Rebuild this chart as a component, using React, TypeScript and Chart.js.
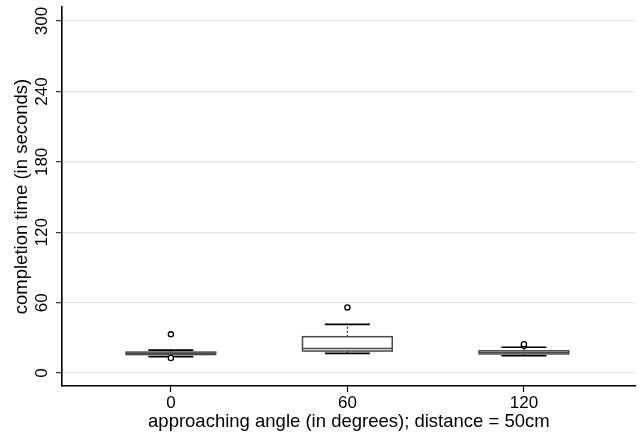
import React, { useEffect, useRef } from 'react';
import { Chart, registerables } from 'chart.js';
Chart.register(...registerables);

// ---- data ----
const categories = [0, 60, 120];
const whiskerLow = [14, 16.8, 14.8];
const q1 = [15.8, 18.8, 16.3];
const median = [16.8, 21, 17.5];
const q3 = [17.9, 31, 19];
const whiskerHigh = [19.6, 41.5, 22];
const outlierX = [0, 0, 60, 120, 120];
const outlierY = [33, 12.8, 56, 23.4, 24.6];
const yTicks = [0, 60, 120, 180, 240, 300];
const xTicks = [0, 60, 120];

const X_TITLE = 'approaching angle (in degrees); distance = 50cm';
const Y_TITLE = 'completion time (in seconds)';

// ---- styles ----
const FONT = "'Liberation Sans', Arial, sans-serif";
const BOX_W = 30.5; // in x units
const CAP_W = 15.3;

const boxPlugin = {
  id: 'boxPlugin',
  beforeDatasetsDraw(chart: any) {
    const ctx = chart.ctx;
    const xs = chart.scales.x;
    const ys = chart.scales.y;
    ctx.save();
    categories.forEach((c, i) => {
      const cx = xs.getPixelForValue(c);
      const bl = xs.getPixelForValue(c - BOX_W / 2);
      const br = xs.getPixelForValue(c + BOX_W / 2);
      const cl = xs.getPixelForValue(c - CAP_W / 2);
      const cr = xs.getPixelForValue(c + CAP_W / 2);
      const yq1 = ys.getPixelForValue(q1[i]);
      const yq3 = ys.getPixelForValue(q3[i]);
      const ymed = ys.getPixelForValue(median[i]);
      const ylo = ys.getPixelForValue(whiskerLow[i]);
      const yhi = ys.getPixelForValue(whiskerHigh[i]);
      // whiskers
      ctx.strokeStyle = '#333';
      ctx.lineWidth = 1.2;
      ctx.setLineDash([2, 2]);
      ctx.beginPath();
      ctx.moveTo(cx, yq3);
      ctx.lineTo(cx, yhi);
      ctx.moveTo(cx, yq1);
      ctx.lineTo(cx, ylo);
      ctx.stroke();
      ctx.setLineDash([]);
      // caps
      ctx.strokeStyle = '#000';
      ctx.lineWidth = 1.6;
      ctx.beginPath();
      ctx.moveTo(cl, yhi);
      ctx.lineTo(cr, yhi);
      ctx.moveTo(cl, ylo);
      ctx.lineTo(cr, ylo);
      ctx.stroke();
      // box
      ctx.fillStyle = '#ffffff';
      ctx.fillRect(bl, yq3, br - bl, yq1 - yq3);
      ctx.strokeStyle = '#4a4a4a';
      ctx.lineWidth = 1.5;
      ctx.strokeRect(bl, yq3, br - bl, yq1 - yq3);
      // median
      ctx.beginPath();
      ctx.moveTo(bl, ymed);
      ctx.lineTo(br, ymed);
      ctx.stroke();
    });
    ctx.restore();
  },
  afterDraw(chart: any) {
    const ctx = chart.ctx;
    const ys = chart.scales.y;
    ctx.save();
    ctx.fillStyle = '#000';
    ctx.font = `17px ${FONT}`;
    ctx.textAlign = 'center';
    ctx.textBaseline = 'middle';
    yTicks.forEach((v) => {
      const py = ys.getPixelForValue(v);
      ctx.save();
      ctx.translate(42, py);
      ctx.rotate(-Math.PI / 2);
      ctx.fillText(String(v), 0, 0);
      ctx.restore();
    });
    ctx.restore();
  },
};

export default function App() {
  const ref = useRef<HTMLCanvasElement | null>(null);
  useEffect(() => {
    document.body.style.margin = '0';
    const canvas = ref.current;
    if (!canvas) return;
    const chart = new Chart(canvas, {
      type: 'scatter',
      data: {
        datasets: [
          {
            data: outlierX.map((x, i) => ({ x, y: outlierY[i] })),
            pointStyle: 'circle',
            pointRadius: 2.6,
            borderColor: '#000',
            backgroundColor: '#fff',
            borderWidth: 1.3,
          },
        ],
      },
      options: {
        responsive: false,
        animation: false,
        events: [],
        layout: { padding: { left: 0, right: 5, top: 7, bottom: 0 } },
        plugins: { legend: { display: false }, tooltip: { enabled: false } },
        scales: {
          x: {
            type: 'linear',
            min: -37,
            max: 158,
            afterBuildTicks: (s: any) => {
              s.ticks = xTicks.map((v) => ({ value: v }));
            },
            afterFit: (s: any) => {
              s.height = 48;
            },
            grid: {
              drawOnChartArea: false,
              tickColor: '#000',
              tickLength: 6,
              tickWidth: 1.2,
            },
            border: { color: '#000', width: 1.6 },
            ticks: {
              color: '#000',
              font: { family: FONT, size: 17 },
              padding: 1,
              maxRotation: 0,
              autoSkip: false,
            },
            title: {
              display: true,
              text: X_TITLE,
              color: '#000',
              font: { family: FONT, size: 18.5 },
              padding: { top: 0, bottom: 1 },
            },
          },
          y: {
            type: 'linear',
            min: -11,
            max: 312,
            afterBuildTicks: (s: any) => {
              s.ticks = yTicks.map((v) => ({ value: v }));
            },
            afterFit: (s: any) => {
              s.width = 62;
            },
            grid: {
              color: '#e4e4e4',
              lineWidth: 1.3,
              tickColor: '#333',
              tickLength: 6,
              tickWidth: 1.2,
            },
            border: { color: '#000', width: 1.6 },
            ticks: { display: false },
            title: {
              display: true,
              text: Y_TITLE,
              color: '#000',
              font: { family: FONT, size: 18.5 },
              padding: { top: 11, bottom: 0 },
            },
          },
        },
      },
      plugins: [boxPlugin],
    });
    return () => chart.destroy();
  }, []);
  return (
    <div style={{ width: 641, height: 434 }}>
      <canvas ref={ref} width={641} height={434} style={{ display: 'block' }} />
    </div>
  );
}
